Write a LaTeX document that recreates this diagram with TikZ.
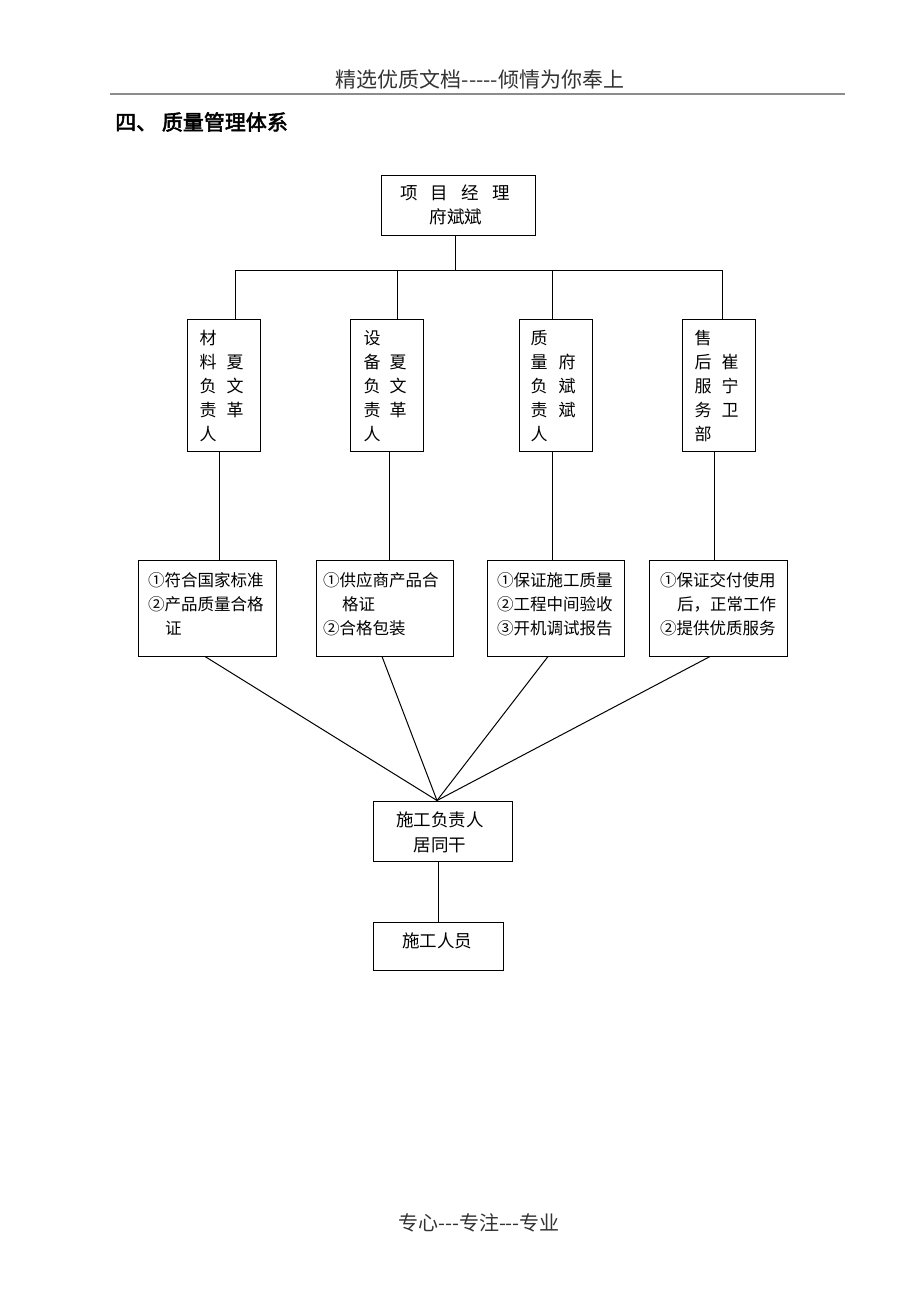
\documentclass[tikz,border=0pt]{standalone}
\usepackage{fontspec}
\setmainfont{Noto Sans CJK SC}[Ligatures=TeXOff]
\newfontfamily\cjkbold[FakeBold=2.5]{Noto Sans CJK SC}
\usetikzlibrary{calc}
\tikzset{
  box/.style={draw, line width=1pt, inner sep=0pt, rectangle},
  conn/.style={line width=1pt},
  txt/.style={inner sep=0pt, font=\fontsize{17.5}{18}\selectfont},
  vtxt/.style={inner sep=0pt, font=\fontsize{17}{18}\selectfont},
  ltxt/.style={inner sep=0pt, anchor=west, font=\fontsize{16.5}{17}\selectfont},
}
\begin{document}
\begin{tikzpicture}[x=1pt,y=-1pt]
\useasboundingbox (0,0) rectangle (920,1302);
\fill[white] (0,0) rectangle (920,1302);
% header
\node[inner sep=0pt, text=black!80, font=\fontsize{21}{21}\selectfont] (hdr) at (480,79) {精选优质文档-{}-{}-{}-{}-倾情为你奉上};
\coordinate (hl) at (110,94);
\coordinate (hr) at (845,94);
\draw[line width=1.5pt, black!45] (hl) -- (hr);
\node[inner sep=0pt, anchor=west, font=\cjkbold\fontsize{21}{21}\selectfont] (title) at (115,122) {四、 质量管理体系};
% top box
\node[box, minimum width=154pt, minimum height=60pt] (top) at (458,205) {};
\node[txt] (t1) at (455,193) {项\hspace{0.75em}目\hspace{0.75em}经\hspace{0.75em}理};
\node[txt] (t2) at (456,217) {府斌斌};
% row 2 boxes
\foreach \n/\cx in {b1/223.5, b2/386.5, b3/555.5, b4/718.5}{
  \node[box, minimum width=73pt, minimum height=132pt] (\n) at (\cx,385) {};
}
% bus
\coordinate (bus) at (455,270);
\coordinate (busl) at (235,270);
\coordinate (busr) at (722,270);
\draw[conn] ([xshift=-3pt]top.south) -- (bus);
\draw[conn] (busl) -- (busr);
\draw[conn] (busl) -- (busl |- b1.north);
\draw[conn] (397,270) -- ([xshift=10.5pt]b2.north);
\draw[conn] (552,270) -- ([xshift=-3.5pt]b3.north);
\draw[conn] (busr) -- (busr |- b4.north);
% row 2 texts
\foreach \c/\y [count=\i] in {材/338,料/362,负/386,责/410,人/434}{
  \node[vtxt] (b1l\i) at (208,\y) {\c};
}
\foreach \c/\y [count=\i] in {夏/362,文/386,革/410}{
  \node[vtxt] (b1r\i) at (235,\y) {\c};
}
\foreach \c/\y [count=\i] in {设/338,备/362,负/386,责/410,人/434}{
  \node[vtxt] (b2l\i) at (372,\y) {\c};
}
\foreach \c/\y [count=\i] in {夏/362,文/386,革/410}{
  \node[vtxt] (b2r\i) at (398,\y) {\c};
}
\foreach \c/\y [count=\i] in {质/338,量/362,负/386,责/410,人/434}{
  \node[vtxt] (b3l\i) at (539,\y) {\c};
}
\foreach \c/\y [count=\i] in {府/362,斌/386,斌/410}{
  \node[vtxt] (b3r\i) at (567,\y) {\c};
}
\foreach \c/\y [count=\i] in {售/338,后/362,服/386,务/410,部/434}{
  \node[vtxt] (b4l\i) at (703,\y) {\c};
}
\foreach \c/\y [count=\i] in {崔/362,宁/386,卫/410}{
  \node[vtxt] (b4r\i) at (730,\y) {\c};
}
% row 3 boxes
\node[box, minimum width=138pt, minimum height=96pt] (r1) at (207,608) {};
\node[box, minimum width=137pt, minimum height=96pt] (r2) at (384.5,608) {};
\node[box, minimum width=137pt, minimum height=96pt] (r3) at (555.5,608) {};
\node[box, minimum width=138pt, minimum height=96pt] (r4) at (718,608) {};
\draw[conn] ([xshift=-4.5pt]b1.south) -- ([xshift=-4.5pt]b1.south |- r1.north);
\draw[conn] ([xshift=2.5pt]b2.south) -- ([xshift=2.5pt]b2.south |- r2.north);
\draw[conn] ([xshift=-3.5pt]b3.south) -- ([xshift=-3.5pt]b3.south |- r3.north);
\draw[conn] ([xshift=-4.5pt]b4.south) -- ([xshift=-4.5pt]b4.south |- r4.north);
% row 3 texts
\node[ltxt] (r1a) at (148,580) {①符合国家标准};
\node[ltxt] (r1b) at (148,604) {②产品质量合格};
\node[ltxt] (r1c) at (165,628) {证};
\node[ltxt] (r2a) at (323,580) {①供应商产品合};
\node[ltxt] (r2b) at (342,604) {格证};
\node[ltxt] (r2c) at (323,628) {②合格包装};
\node[ltxt] (r3a) at (497,580) {①保证施工质量};
\node[ltxt] (r3b) at (497,604) {②工程中间验收};
\node[ltxt] (r3c) at (497,628) {③开机调试报告};
\node[ltxt] (r4a) at (660,580) {①保证交付使用};
\node[ltxt] (r4b) at (677,604) {后，正常工作};
\node[ltxt] (r4c) at (660,628) {②提供优质服务};
% E and F
\node[box, minimum width=139pt, minimum height=60pt] (e) at (442.5,831) {};
\node[txt] (e1) at (440,820) {施工负责人};
\node[txt] (e2) at (440,845) {居同干};
\node[box, minimum width=130pt, minimum height=48pt] (f) at (438,946) {};
\node[txt] (f1) at (437,941) {施工人员};
% fan
\coordinate (fan) at ([xshift=-5.5pt]e.north);
\draw[conn] ([xshift=-2pt]r1.south) -- (fan);
\draw[conn] ([xshift=-2.5pt]r2.south) -- (fan);
\draw[conn] ([xshift=-7.5pt]r3.south) -- (fan);
\draw[conn] ([xshift=-8pt]r4.south) -- (fan);
\draw[conn] ([xshift=-4.5pt]e.south) -- ([xshift=-4.5pt]e.south |- f.north);
% footer
\node[inner sep=0pt, text=black!80, font=\fontsize{20}{20}\selectfont] (ftr) at (479,1223) {专心-{}-{}-专注-{}-{}-专业};
\end{tikzpicture}
\end{document}
